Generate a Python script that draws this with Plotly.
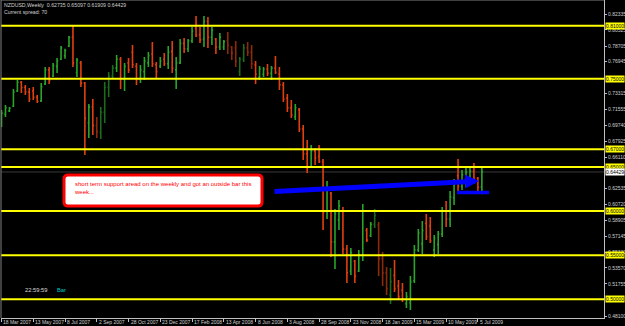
import pandas as pd
import plotly.graph_objects as go

# ---------------- data ----------------
start_week = "2007-03-18"
opens = [0.6990,0.7100,0.7135,0.7190,0.7360,0.7460,0.7400,0.7350,0.7360,0.7290,
         0.7250,0.7440,0.7600,0.7530,0.7640,0.7720,0.7760,0.7870,0.7970,0.7570,
         0.7680,0.7450,0.7000,0.7180,0.6970,0.6890,0.7120,0.7400,0.7530,0.7620,
         0.7720,0.7500,0.7680,0.7800,0.7640,0.7500,0.7580,0.7680,0.7780,0.7660,
         0.7640,0.7720,0.7670,0.7810,0.7600,0.7680,0.7900,0.7840,0.7930,0.8070,
         0.8000,0.7950,0.8150,0.7970,0.7950,0.7860,0.7860,0.7930,0.7860,0.7850,
         0.7580,0.7720,0.7850,0.7800,0.7660,0.7520,0.7550,0.7610,0.7560,0.7620,
         0.7550,0.7430,0.7280,0.7170,0.7070,0.7150,0.6930,0.6650,0.6500,0.6680,
         0.6620,0.6560,0.6000,0.6200,0.5650,0.5900,0.6000,0.5570,0.5320,0.5430,
         0.5320,0.5500,0.5780,0.5720,0.5850,0.5840,0.5460,0.5300,0.5050,0.5270,
         0.5150,0.5100,0.4950,0.4960,0.5210,0.5560,0.5630,0.5860,0.5830,0.5560,
         0.5620,0.5740,0.6000,0.5910,0.6150,0.6400,0.6280,0.6360,0.6380,0.6450,
         0.6370,0.62735]
highs = [0.7145,0.7202,0.7179,0.7383,0.7485,0.7474,0.7429,0.7395,0.7406,0.7315,
         0.7451,0.7633,0.7633,0.7678,0.7735,0.7871,0.7840,0.7984,0.8109,0.7735,
         0.7701,0.7463,0.7213,0.7270,0.7066,0.7179,0.7463,0.7576,0.7655,0.7769,
         0.7746,0.7678,0.7735,0.7882,0.7678,0.7655,0.7746,0.7803,0.7916,0.7689,
         0.7746,0.7791,0.7871,0.7927,0.7746,0.7950,0.7961,0.7950,0.8086,0.8211,
         0.8086,0.8211,0.8199,0.8086,0.7961,0.8018,0.7939,0.8029,0.7871,0.7927,
         0.7746,0.7893,0.7916,0.7882,0.7701,0.7644,0.7633,0.7667,0.7644,0.7757,
         0.7633,0.7463,0.7327,0.7259,0.7213,0.7168,0.6975,0.6805,0.6748,0.6714,
         0.6748,0.6590,0.6340,0.6216,0.6023,0.6125,0.6046,0.5615,0.5581,0.5445,
         0.5558,0.6080,0.5808,0.5876,0.6023,0.5876,0.5536,0.5366,0.5354,0.5445,
         0.5218,0.5184,0.5082,0.5264,0.5615,0.5796,0.5887,0.5966,0.5932,0.5728,
         0.5774,0.6046,0.6114,0.6227,0.6363,0.6590,0.6465,0.6488,0.6488,0.6544,
         0.6386,0.65097]
lows = [0.6953,0.7066,0.7123,0.7179,0.7349,0.7338,0.7315,0.7236,0.7259,0.7225,
        0.7236,0.7429,0.7440,0.7519,0.7565,0.7712,0.7725,0.7859,0.7633,0.7519,
        0.7406,0.6635,0.6828,0.6862,0.6828,0.6817,0.6998,0.7293,0.7508,0.7576,
        0.7383,0.7361,0.7565,0.7621,0.7429,0.7451,0.7485,0.7633,0.7633,0.7508,
        0.7621,0.7644,0.7610,0.7565,0.7383,0.7667,0.7791,0.7803,0.7905,0.7973,
        0.7905,0.7859,0.7848,0.7882,0.7780,0.7825,0.7825,0.7780,0.7712,0.7633,
        0.7531,0.7689,0.7757,0.7610,0.7440,0.7485,0.7519,0.7531,0.7485,0.7553,
        0.7372,0.7236,0.7123,0.7055,0.7032,0.6896,0.6578,0.6431,0.6488,0.6522,
        0.6544,0.5785,0.5910,0.5479,0.5343,0.5785,0.5513,0.5184,0.5275,0.5184,
        0.5309,0.5434,0.5649,0.5706,0.5808,0.5263,0.5150,0.5048,0.4946,0.5083,
        0.5003,0.4969,0.4900,0.4878,0.5184,0.5536,0.5513,0.5672,0.5638,0.5479,
        0.5513,0.5706,0.5819,0.5819,0.6068,0.6204,0.6238,0.6272,0.6318,0.6318,
        0.6193,0.61909]
closes = [0.7110,0.7170,0.7165,0.7350,0.7460,0.7400,0.7350,0.7270,0.7290,0.7245,
          0.7410,0.7600,0.7480,0.7650,0.7700,0.7850,0.7820,0.7970,0.7680,0.7710,
          0.7450,0.7050,0.7180,0.6970,0.6900,0.7120,0.7400,0.7530,0.7620,0.7720,
          0.7500,0.7640,0.7600,0.7660,0.7500,0.7600,0.7700,0.7760,0.7670,0.7580,
          0.7700,0.7670,0.7800,0.7620,0.7680,0.7900,0.7840,0.7930,0.8040,0.7990,
          0.7940,0.8150,0.7970,0.8050,0.7860,0.7970,0.7920,0.7880,0.7790,0.7700,
          0.7720,0.7850,0.7800,0.7670,0.7550,0.7610,0.7610,0.7560,0.7620,0.7570,
          0.7430,0.7270,0.7170,0.7090,0.7170,0.6930,0.6650,0.6500,0.6680,0.6600,
          0.6560,0.5980,0.6250,0.5650,0.5970,0.6060,0.5570,0.5300,0.5530,0.5260,
          0.5500,0.6000,0.5670,0.5850,0.5950,0.5460,0.5300,0.5120,0.5200,0.5120,
          0.5030,0.5000,0.5030,0.5200,0.5560,0.5750,0.5780,0.5710,0.5660,0.5690,
          0.5740,0.6000,0.5910,0.6160,0.6300,0.6280,0.6410,0.6440,0.6450,0.6370,
          0.6270,0.64429]

yellow_levels = [0.81, 0.75, 0.67, 0.65, 0.60, 0.55, 0.50]
price_ticks = [0.82335, 0.80525, 0.78705, 0.76945, 0.73315, 0.71555, 0.69740,
               0.67925, 0.66110, 0.62535, 0.60720, 0.58905, 0.57145, 0.55330,
               0.53570, 0.51755, 0.48100]
date_tick_labels = ["18 Mar 2007", "13 May 2007", "8 Jul 2007", "2 Sep 2007",
                    "28 Oct 2007", "23 Dec 2007", "17 Feb 2008", "13 Apr 2008",
                    "8 Jun 2008", "3 Aug 2008", "28 Sep 2008", "23 Nov 2008",
                    "18 Jan 2009", "15 Mar 2009", "10 May 2009", "5 Jul 2009"]
last_price = 0.64429
header = "NZDUSD,Weekly  0.62735 0.65097 0.61909 0.64429"
note_text = "short term support aread on the weekly and got an outside bar this<br>week..."

# ---------------- layout geometry / style ----------------
W_FIG, H_FIG = 625, 326
ML, MR, MT, MB = 1, 21, 0, 8
PW, PH = W_FIG - ML - MR, H_FIG - MT - MB
PX_PER_WEEK = 3.97
FONT = "Liberation Sans"
DIM_RANGES = [(24, 28), (57, 63), (94, 98)]
GREEN, RED = "#2aa52a", "#e0400e"
DGREEN, DRED = "#1c6a1c", "#8c2a0a"
FIRST_BAR_PX = 1.5

weeks = pd.date_range(start_week, periods=len(closes), freq="7D")
date_ticks = [weeks[0] + pd.Timedelta(weeks=8 * k) for k in range(len(date_tick_labels))]
x0 = weeks[0] - pd.Timedelta(weeks=(FIRST_BAR_PX - ML) / PX_PER_WEEK)
x1 = x0 + pd.Timedelta(weeks=PW / PX_PER_WEEK)
y0 = 0.82335 - (H_FIG - MB - 14) * 0.0011336
y1 = 0.82335 + 14 * 0.0011336


def PXp(px):
    return (px - ML) / PW


def PYp(py):
    return 1 - (py - MT) / PH


def date_to_paper(d):
    return (d - x0) / (x1 - x0)


def px_to_date(px):
    return x0 + pd.Timedelta(weeks=(px - ML) / PX_PER_WEEK)


def py_to_price(py):
    return y1 - (py - MT) * (y1 - y0) / PH


dim = [any(a <= i <= b for a, b in DIM_RANGES) for i in range(len(closes))]

fig = go.Figure()
for flag, inc, dec in [(False, GREEN, RED), (True, DGREEN, DRED)]:
    idx = [i for i in range(len(closes)) if dim[i] == flag]
    fig.add_trace(go.Ohlc(
        x=[weeks[i] for i in idx],
        open=[opens[i] for i in idx], high=[highs[i] for i in idx],
        low=[lows[i] for i in idx], close=[closes[i] for i in idx],
        increasing=dict(line=dict(color=inc, width=1.6)),
        decreasing=dict(line=dict(color=dec, width=1.6)),
        tickwidth=0.3, showlegend=False, hoverinfo="skip"))

shapes = []
shapes.append(dict(type="line", xref="paper", yref="y", x0=0, x1=1, y0=last_price, y1=last_price,
                   line=dict(color="#3a3a3a", width=1), layer="below"))
for lv in yellow_levels:
    shapes.append(dict(type="line", xref="paper", yref="y", x0=0, x1=1, y0=lv, y1=lv,
                       line=dict(color="#ffff00", width=2)))
shapes.append(dict(type="line", xref="paper", yref="paper", x0=0, x1=1, y0=1, y1=1,
                   line=dict(color="#808080", width=1)))
shapes.append(dict(type="line", xref="paper", yref="paper", x0=0, x1=0, y0=0, y1=1,
                   line=dict(color="#808080", width=1)))

bx0, bx1, by0, by1, r = 64, 262, 175, 206, 4
path = (f"M {PXp(bx0 + r)},{PYp(by0)} L {PXp(bx1 - r)},{PYp(by0)} "
        f"Q {PXp(bx1)},{PYp(by0)} {PXp(bx1)},{PYp(by0 + r)} L {PXp(bx1)},{PYp(by1 - r)} "
        f"Q {PXp(bx1)},{PYp(by1)} {PXp(bx1 - r)},{PYp(by1)} L {PXp(bx0 + r)},{PYp(by1)} "
        f"Q {PXp(bx0)},{PYp(by1)} {PXp(bx0)},{PYp(by1 - r)} L {PXp(bx0)},{PYp(by0 + r)} "
        f"Q {PXp(bx0)},{PYp(by0)} {PXp(bx0 + r)},{PYp(by0)} Z")
shapes.append(dict(type="path", xref="paper", yref="paper", path=path,
                   fillcolor="#ffffff", line=dict(color="#ff0000", width=3)))
shapes.append(dict(type="line", xref="x", yref="y", x0=px_to_date(457), x1=px_to_date(489),
                   y0=py_to_price(192.5), y1=py_to_price(192.5),
                   line=dict(color="#0000ff", width=3.5)))

annotations = []
annotations.append(dict(xref="paper", yref="paper", x=PXp(2), y=PYp(5), xanchor="left", yanchor="middle",
                        text=header, showarrow=False, font=dict(family=FONT, size=5.2, color="#d0d0d0")))
annotations.append(dict(xref="paper", yref="paper", x=PXp(2), y=PYp(12), xanchor="left", yanchor="middle",
                        text="Current spread: 70", showarrow=False,
                        font=dict(family=FONT, size=5.2, color="#d0d0d0")))
annotations.append(dict(xref="paper", yref="paper", x=PXp(72), y=PYp(179), xanchor="left", yanchor="top",
                        text=note_text, showarrow=False, align="left",
                        font=dict(family=FONT, size=6, color="#ff0000")))
annotations.append(dict(xref="paper", yref="paper", x=PXp(23), y=PYp(290), xanchor="left", yanchor="middle",
                        text="22:59:59", showarrow=False, font=dict(family=FONT, size=5.8, color="#d8d8d8")))
annotations.append(dict(xref="paper", yref="paper", x=PXp(55), y=PYp(290), xanchor="left", yanchor="middle",
                        text="Bar", showarrow=False, font=dict(family=FONT, size=5.8, color="#00c8c8")))
annotations.append(dict(xref="x", yref="y", axref="x", ayref="y",
                        x=px_to_date(479), y=py_to_price(181), ax=px_to_date(273), ay=py_to_price(191.5),
                        text="", showarrow=True, arrowhead=2, arrowsize=0.55, arrowwidth=5,
                        arrowcolor="#0000ff", standoff=0, startstandoff=0))
for lv in yellow_levels:
    annotations.append(dict(xref="paper", yref="y", x=1, y=lv, xanchor="left", yanchor="middle", xshift=1,
                            text=f"{lv:.5f}", showarrow=False, bgcolor="#ffff00", borderpad=0,
                            font=dict(family=FONT, size=5, color="#000000")))
annotations.append(dict(xref="paper", yref="y", x=1, y=last_price, xanchor="left", yanchor="middle", xshift=1,
                        text=f"{last_price:.5f}", showarrow=False, bgcolor="#ffffff", borderpad=0,
                        font=dict(family=FONT, size=5, color="#000000")))
for d, lab in zip(date_ticks, date_tick_labels):
    annotations.append(dict(xref="paper", yref="paper", x=date_to_paper(d), y=PYp(322),
                            xanchor="left", yanchor="middle", text=lab, showarrow=False,
                            font=dict(family=FONT, size=5, color="#d0d0d0")))

fig.update_layout(
    width=W_FIG, height=H_FIG,
    margin=dict(l=ML, r=MR, t=MT, b=MB, pad=0),
    paper_bgcolor="#000000", plot_bgcolor="#000000",
    showlegend=False,
    shapes=shapes, annotations=annotations,
    xaxis=dict(range=[x0, x1], rangeslider=dict(visible=False), showgrid=False, zeroline=False,
               tickvals=date_ticks, showticklabels=False, ticks="outside", ticklen=3,
               tickcolor="#c0c0c0", showline=True, linecolor="#c0c0c0", linewidth=1),
    yaxis=dict(range=[y0, y1], side="right", showgrid=False, zeroline=False,
               tickvals=price_ticks, ticktext=[f"{v:.5f}" for v in price_ticks],
               ticks="outside", ticklen=2, tickcolor="#c0c0c0",
               tickfont=dict(family=FONT, size=5, color="#d0d0d0"),
               showline=True, linecolor="#c0c0c0", linewidth=1),
)

fig.write_html("out.html")
